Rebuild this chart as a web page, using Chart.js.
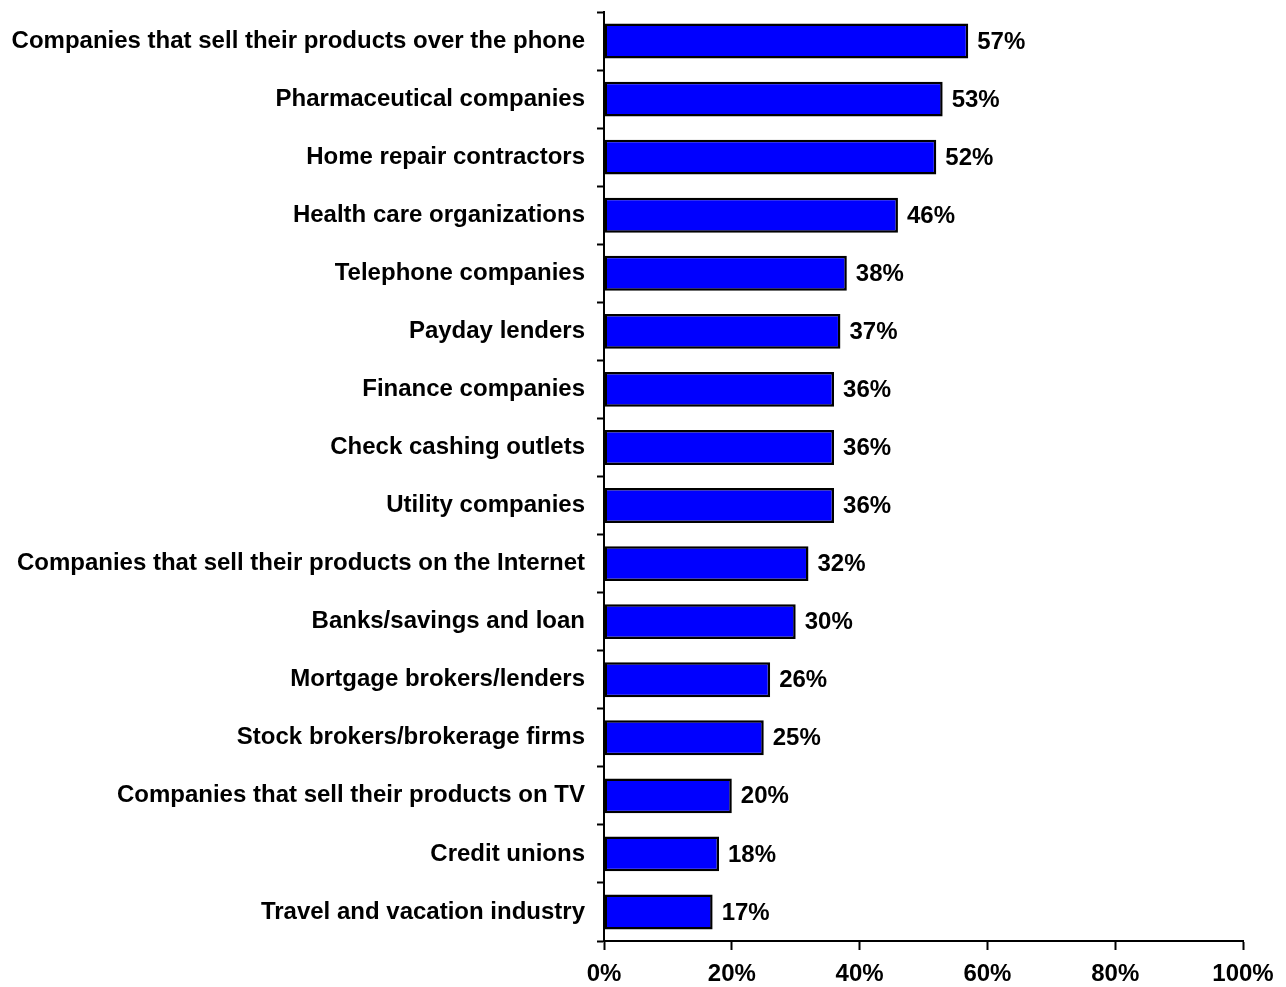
<!DOCTYPE html>
<html>
<head>
<meta charset="utf-8">
<script src="https://cdn.jsdelivr.net/npm/chart.js@4"></script>
<style>
  html, body { margin: 0; padding: 0; background: #fff; }
  #wrap { width: 1286px; height: 987px; }
</style>
</head>
<body>
<div id="wrap"><canvas id="chart"></canvas></div>
<script>
const categories = [
  "Companies that sell their products over the phone",
  "Pharmaceutical companies",
  "Home repair contractors",
  "Health care organizations",
  "Telephone companies",
  "Payday lenders",
  "Finance companies",
  "Check cashing outlets",
  "Utility companies",
  "Companies that sell their products on the Internet",
  "Banks/savings and loan",
  "Mortgage brokers/lenders",
  "Stock brokers/brokerage firms",
  "Companies that sell their products on TV",
  "Credit unions",
  "Travel and vacation industry"
];
const percents = [57, 53, 52, 46, 38, 37, 36, 36, 36, 32, 30, 26, 25, 20, 18, 17];
const xTicks = [0, 20, 40, 60, 80, 100];

const FONT = "'Liberation Sans', Arial, sans-serif";

// percentage printed just past the end of each bar
const valueLabels = {
  id: "valueLabels",
  afterDatasetsDraw(chart) {
    const { ctx } = chart;
    const meta = chart.getDatasetMeta(0);
    ctx.save();
    ctx.font = "bold 24px " + FONT;
    ctx.fillStyle = "#000";
    ctx.textAlign = "left";
    ctx.textBaseline = "middle";
    meta.data.forEach((bar, i) => {
      ctx.fillText(percents[i] + "%", bar.x + 9, bar.y + 1);
    });
    ctx.restore();
  }
};

new Chart(document.getElementById("chart"), {
  type: "bar",
  data: {
    labels: categories,
    datasets: [{
      data: percents,
      backgroundColor: "#0000ff",
      borderColor: "#000",
      borderWidth: 2.5,
      borderSkipped: false,
      categoryPercentage: 1,
      barPercentage: 0.6
    }]
  },
  options: {
    indexAxis: "y",
    responsive: true,
    maintainAspectRatio: false,
    animation: false,
    layout: { padding: { top: 12, right: 43, left: 0, bottom: 0 } },
    plugins: {
      legend: { display: false },
      tooltip: { enabled: false }
    },
    scales: {
      y: {
        afterFit(scale) {
          scale.width = 604;
          scale.paddingTop = 0;
          scale.paddingBottom = 0;
        },
        grid: {
          drawOnChartArea: false,
          offset: true,
          tickLength: 7,
          tickWidth: 2,
          tickColor: "#000"
        },
        border: { color: "#000", width: 2 },
        ticks: {
          color: "#000",
          padding: 12,
          font: { family: FONT, size: 24, weight: "bold" }
        }
      },
      x: {
        min: 0,
        max: 100,
        afterBuildTicks(scale) { scale.ticks = xTicks.map(v => ({ value: v })); },
        afterFit(scale) { scale.height = 46; },
        grid: {
          drawOnChartArea: false,
          tickLength: 9,
          tickWidth: 2,
          tickColor: "#000"
        },
        border: { color: "#000", width: 2 },
        ticks: {
          color: "#000",
          padding: 10,
          maxRotation: 0,
          font: { family: FONT, size: 24, weight: "bold" },
          callback: v => v + "%"
        }
      }
    }
  },
  plugins: [valueLabels]
});
</script>
</body>
</html>
